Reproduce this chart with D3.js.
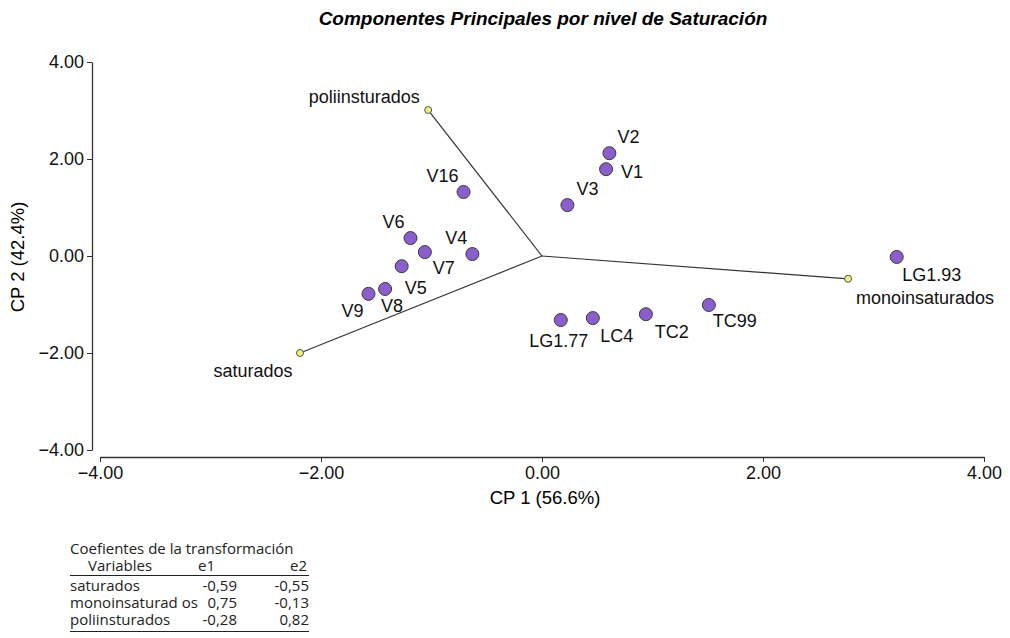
<!DOCTYPE html>
<html>
<head>
<meta charset="utf-8">
<script src="https://cdn.jsdelivr.net/npm/d3@7"></script>
<style>
  body { margin: 0; background: #fff; }
  svg text { font-family: "Liberation Sans", Arial, sans-serif; }
  .axis path, .axis line { stroke: #333; }
  .axis text { font-size: 18px; fill: #111; }
  .ptLabel { font-size: 18px; fill: #111; }
  .tbl text { font-family: "Open Sans", sans-serif; font-size: 15px; fill: #222; }
</style>
</head>
<body>
<div id="chart"></div>
<script>
// Svg Dimensions
var svgWidth = 1010;
var svgHeight = 638;

// Data
var pointNames = ["V2", "V1", "V3", "V16", "V6", "V7", "V4", "V5", "V8", "V9", "LG1.77", "LC4", "TC2", "TC99", "LG1.93"];
var pointCP1 = [0.61, 0.58, 0.23, -0.71, -1.19, -1.06, -0.63, -1.27, -1.42, -1.57, 0.17, 0.46, 0.94, 1.51, 3.21];
var pointCP2 = [2.12, 1.79, 1.05, 1.32, 0.37, 0.08, 0.04, -0.21, -0.68, -0.78, -1.32, -1.28, -1.20, -1.01, -0.02];

var vectorNames = ["saturados", "monoinsaturados", "poliinsturados"];
var vectorCP1 = [-2.19, 2.77, -1.03];
var vectorCP2 = [-2.00, -0.47, 3.01];

var tickValues = [-4, -2, 0, 2, 4];

// Coefficient table
var coefVariables = ["saturados", "monoinsaturad os", "poliinsturados"];
var coefE1 = ["-0,59", "0,75", "-0,28"];
var coefE2 = ["-0,55", "-0,13", "0,82"];

// Label offsets (layout only)
var pointLabelOffset = {
    "V2": [19, -16], "V1": [26, 3], "V3": [20, -16], "V16": [-21, -16],
    "V6": [-17, -16], "V7": [19, 16], "V4": [-16, -16], "V5": [14, 22],
    "V8": [7, 17], "V9": [-16, 17], "LG1.77": [-2, 21], "LC4": [24, 18],
    "TC2": [26, 17], "TC99": [26, 16], "LG1.93": [35, 18]
};
var vectorLabelOffset = {
    "saturados": [-47, 18], "monoinsaturados": [77, 19], "poliinsturados": [-64, -13]
};

var points = pointNames.map((n, i) => ({ name: n, x: pointCP1[i], y: pointCP2[i] }));
var vectors = vectorNames.map((n, i) => ({ name: n, x: vectorCP1[i], y: vectorCP2[i] }));

var svg = d3.select("#chart").append("svg")
    .attr("width", svgWidth)
    .attr("height", svgHeight);

// Scales
var xScale = d3.scaleLinear().domain([-4, 4]).range([100, 984]);
var yScale = d3.scaleLinear().domain([-4, 4]).range([450, 62]);

// Title
svg.append("text")
    .attr("x", 543)
    .attr("y", 25)
    .attr("text-anchor", "middle")
    .style("font-size", "19px")
    .style("font-weight", "bold")
    .style("font-style", "italic")
    .text("Componentes Principales por nivel de Saturación");

// Y axis
var yAxis = svg.append("g")
    .classed("axis", true)
    .attr("transform", "translate(92, 0)")
    .call(d3.axisLeft(yScale).tickValues(tickValues).tickFormat(d3.format(".2f")).tickSize(5).tickSizeOuter(0));
yAxis.select(".domain").attr("stroke", "#5b4a8c").attr("stroke-width", 1.3);

// X axis
var xAxis = svg.append("g")
    .classed("axis", true)
    .attr("transform", "translate(0, 457)")
    .call(d3.axisBottom(xScale).tickValues(tickValues).tickFormat(d3.format(".2f")).tickSize(5).tickSizeOuter(0));
xAxis.select(".domain").attr("stroke", "#5b4a8c").attr("stroke-width", 1.3);
xAxis.selectAll("text").attr("dy", "0.8em");

// Axis titles
svg.append("text")
    .attr("x", 545)
    .attr("y", 504)
    .attr("text-anchor", "middle")
    .style("font-size", "18.5px")
    .text("CP 1 (56.6%)");

svg.append("text")
    .attr("transform", "translate(24, 257) rotate(-90)")
    .attr("text-anchor", "middle")
    .style("font-size", "18.5px")
    .text("CP 2 (42.4%)");

// Vectors
var plot = svg.append("g");
plot.selectAll(".vec")
    .data(vectors)
    .enter()
    .append("line")
    .classed("vec", true)
    .attr("x1", xScale(0))
    .attr("y1", yScale(0))
    .attr("x2", d => xScale(d.x))
    .attr("y2", d => yScale(d.y))
    .attr("stroke", "#333")
    .attr("stroke-width", 1.2);

plot.selectAll(".vecEnd")
    .data(vectors)
    .enter()
    .append("circle")
    .classed("vecEnd", true)
    .attr("cx", d => xScale(d.x))
    .attr("cy", d => yScale(d.y))
    .attr("r", 3.5)
    .attr("fill", "#eef07a")
    .attr("stroke", "#555")
    .attr("stroke-width", 1);

plot.selectAll(".vecLabel")
    .data(vectors)
    .enter()
    .append("text")
    .classed("ptLabel", true)
    .attr("x", d => xScale(d.x) + vectorLabelOffset[d.name][0])
    .attr("y", d => yScale(d.y) + vectorLabelOffset[d.name][1])
    .attr("dy", "0.35em")
    .attr("text-anchor", "middle")
    .text(d => d.name);

// Points
plot.selectAll(".pt")
    .data(points)
    .enter()
    .append("circle")
    .classed("pt", true)
    .attr("cx", d => xScale(d.x))
    .attr("cy", d => yScale(d.y))
    .attr("r", 6.5)
    .attr("fill", "#8b5fcb")
    .attr("stroke", "#3a3a3a")
    .attr("stroke-width", 1);

plot.selectAll(".ptText")
    .data(points)
    .enter()
    .append("text")
    .classed("ptLabel", true)
    .attr("x", d => xScale(d.x) + pointLabelOffset[d.name][0])
    .attr("y", d => yScale(d.y) + pointLabelOffset[d.name][1])
    .attr("dy", "0.35em")
    .attr("text-anchor", "middle")
    .text(d => d.name);

// Coefficient table
var tbl = svg.append("g").classed("tbl", true);
tbl.append("text").attr("x", 70).attr("y", 554).text("Coefientes de la transformación");
tbl.append("text").attr("x", 88).attr("y", 571).text("Variables");
tbl.append("text").attr("x", 198).attr("y", 571).text("e1");
tbl.append("text").attr("x", 307).attr("y", 571).attr("text-anchor", "end").text("e2");
tbl.append("line").attr("x1", 70).attr("x2", 309).attr("y1", 575.5).attr("y2", 575.5)
    .attr("stroke", "#222").attr("stroke-width", 1.2);

var rowY = d3.scaleBand().domain(coefVariables).range([578, 629]);
coefVariables.forEach(function(v, i) {
    var yy = rowY(v) + 13;
    tbl.append("text").attr("x", 70).attr("y", yy).text(v);
    tbl.append("text").attr("x", 237).attr("y", yy).attr("text-anchor", "end").text(coefE1[i]);
    tbl.append("text").attr("x", 309).attr("y", yy).attr("text-anchor", "end").text(coefE2[i]);
});
tbl.append("line").attr("x1", 70).attr("x2", 309).attr("y1", 631.5).attr("y2", 631.5)
    .attr("stroke", "#222").attr("stroke-width", 1.2);
</script>
</body>
</html>
